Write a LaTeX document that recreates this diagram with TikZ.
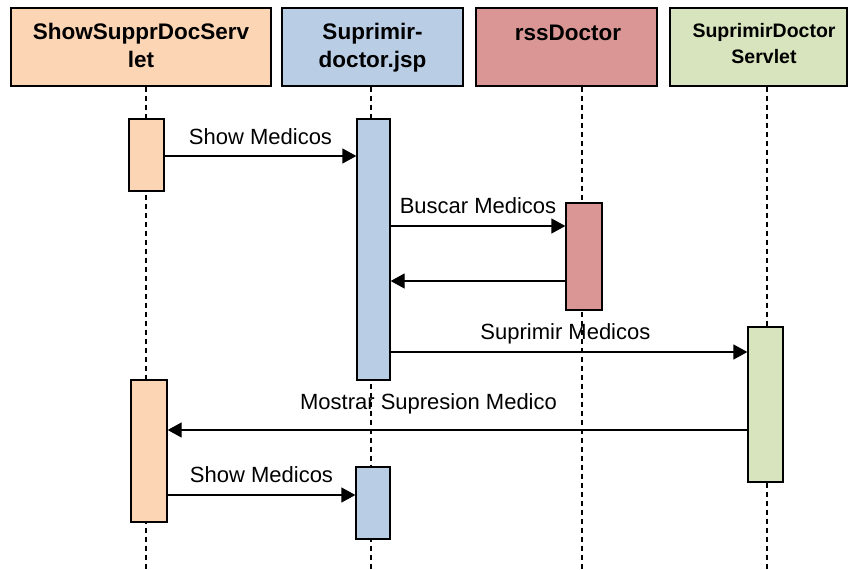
\documentclass[tikz,border=0pt]{standalone}
\usepackage{fontspec}
\setmainfont{Liberation Sans}
\usetikzlibrary{arrows.meta}
\definecolor{peach}{HTML}{FCD5B5}
\definecolor{skyblue}{HTML}{B9CDE5}
\definecolor{rosered}{HTML}{D99694}
\definecolor{palegreen}{HTML}{D7E4BD}
\begin{document}
\begin{tikzpicture}[x=1pt,y=-1pt,
  headbox/.style={draw=black, line width=1.3pt, minimum height=78pt, inner sep=0pt},
  headtext/.style={anchor=base, inner sep=0pt, font=\bfseries\fontsize{22.5}{28}\selectfont},
  headsmall/.style={anchor=base, inner sep=0pt, font=\bfseries\fontsize{19.5}{26}\selectfont},
  lifeline/.style={line width=1.5pt, dash pattern=on 5pt off 4pt},
  actbox/.style={draw=black, line width=1.3pt, inner sep=0pt},
  msg/.style={line width=1.3pt, -{Triangle[length=14pt,width=15pt]}},
  msglabel/.style={anchor=base, inner sep=0pt, font=\fontsize{22}{26}\selectfont}]
\useasboundingbox (0,0) rectangle (849,570);

% participant heads
\node[headbox, fill=peach, minimum width=260pt] (h1) at (141,47) {};
\node[headbox, fill=skyblue, minimum width=181pt] (h2) at (372.5,47) {};
\node[headbox, fill=rosered, minimum width=181pt] (h3) at (566.5,47) {};
\node[headbox, fill=palegreen, minimum width=177pt] (h4) at (758.5,47) {};
\node[headtext] (h1a) at (141,39) {ShowSupprDocServ};
\node[headtext] (h1b) at (141,67) {let};
\node[headtext] (h2a) at (372.5,39) {Suprimir-};
\node[headtext] (h2b) at (372.5,67) {doctor.jsp};
\node[headtext] (h3a) at (568,40) {rssDoctor};
\node[headsmall] (h4a) at (764,37) {SuprimirDoctor};
\node[headsmall] (h4b) at (764,63) {Servlet};

% lifelines
\coordinate (e1) at (146,570);
\coordinate (e2) at (371,570);
\coordinate (e3) at (582,570);
\coordinate (e4) at (767,570);
\draw[lifeline] (h1.south -| e1) -- (e1);
\draw[lifeline] (h2.south -| e2) -- (e2);
\draw[lifeline] (h3.south -| e3) -- (e3);
\draw[lifeline] (h4.south -| e4) -- (e4);

% activation bars
\node[actbox, fill=peach, minimum width=35pt, minimum height=72pt] (a1) at (146.5,155) {};
\node[actbox, fill=skyblue, minimum width=33pt, minimum height=261pt] (a2) at (373.5,249.5) {};
\node[actbox, fill=rosered, minimum width=36pt, minimum height=107pt] (a3) at (584,256.5) {};
\node[actbox, fill=palegreen, minimum width=35pt, minimum height=155pt] (a4) at (765.5,404.5) {};
\node[actbox, fill=peach, minimum width=36pt, minimum height=142pt] (a5) at (149,451) {};
\node[actbox, fill=skyblue, minimum width=34pt, minimum height=72pt] (a6) at (373,503) {};

% messages
\draw[msg] (a1.east |- 0,156) -- node[msglabel, yshift=12pt] (m1) {Show Medicos} (a2.west |- 0,156);
\draw[msg] (a2.east |- 0,226) -- node[msglabel, yshift=13pt] (m2) {Buscar Medicos} (a3.west |- 0,226);
\draw[msg] (a3.west |- 0,281) -- (a2.east |- 0,281);
\draw[msg] (a2.east |- 0,352) -- node[msglabel, yshift=13pt, pos=0.49] (m4) {Suprimir Medicos} (a4.west |- 0,352);
\draw[msg] (a4.west |- 0,430) -- node[msglabel, yshift=21pt, pos=0.55] (m5) {Mostrar Supresion Medico} (a5.east |- 0,430);
\draw[msg] (a5.east |- 0,495) -- node[msglabel, yshift=13pt] (m6) {Show Medicos} (a6.west |- 0,495);
\end{tikzpicture}
\end{document}
